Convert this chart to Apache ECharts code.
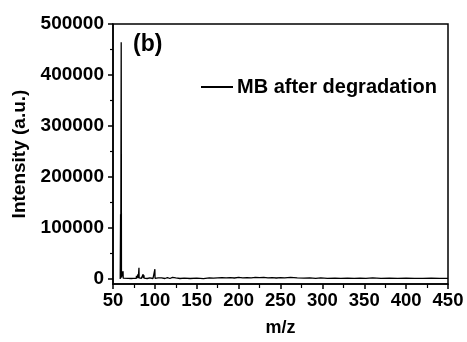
<!DOCTYPE html>
<html><head><meta charset="utf-8">
<script src="https://cdn.jsdelivr.net/npm/echarts@6/dist/echarts.min.js"></script>
<style>html,body{margin:0;padding:0;background:#fff}#c{width:467px;height:342px}</style>
</head><body><div id="c"></div>
<script>
const mzValues = [58.6, 58.9, 59.05, 59.2, 59.6, 59.8, 60.1, 60.4, 60.9, 61.8, 62, 62.2, 64, 68, 71.8, 72, 72.2, 73.8, 74, 74.2, 77.8, 78, 78.2, 79.8, 80, 80.2, 80.8, 81, 81.2, 81.8, 82, 82.2, 83.8, 84, 84.2, 85.8, 86, 86.2, 86.8, 87, 87.2, 88, 90.8, 91, 91.2, 94, 97.8, 98, 98.2, 99.8, 100, 100.2, 100.8, 101, 101.2, 104, 108, 112, 115, 118, 121, 125, 130, 135, 142, 150, 158, 165, 170, 175, 180, 185, 190, 195, 200, 205, 210, 215, 220, 225, 230, 235, 240, 245, 250, 255, 262, 270, 278, 285, 292, 298, 306, 315, 322, 330, 338, 345, 352, 360, 370, 380, 390, 400, 410, 420, 430, 440, 450];
const intensityValues = [0, 1500, 127000, 1500, 2000, 464000, 3000, 1500, 1500, 1000, 15000, 1500, 1200, 1000, 800, 2500, 800, 900, 4000, 900, 1000, 6000, 1000, 1500, 9000, 1500, 2000, 22000, 2000, 1500, 5000, 1200, 1000, 4000, 1000, 1500, 9000, 1500, 1500, 7000, 1500, 4000, 800, 2500, 800, 2000, 800, 3000, 800, 900, 19000, 1200, 1000, 4000, 900, 2000, 2000, 800, 2500, 800, 3000, 2000, 800, 1500, 800, 1500, 700, 2000, 1500, 2000, 2500, 2000, 2500, 1800, 3000, 2000, 2500, 2000, 3000, 2500, 3000, 2000, 2500, 1800, 2500, 2000, 3000, 2000, 1500, 2000, 1200, 2000, 1200, 1500, 1000, 1500, 1000, 1500, 1000, 2000, 1000, 1500, 1000, 1500, 1000, 1200, 1500, 1000, 1000];
const xTicks = [50, 100, 150, 200, 250, 300, 350, 400, 450];
const yTicks = [0, 100000, 200000, 300000, 400000, 500000];
const yMinorTicks = [50000, 150000, 250000, 350000, 450000];
const seriesName = 'MB after degradation';

const FONT = 'Liberation Sans, Arial, sans-serif';
const chart = echarts.init(document.getElementById('c'));
const data = mzValues.map((m, i) => [m, intensityValues[i]]);
chart.setOption({
  animation: false,
  backgroundColor: '#fff',
  grid: { left: 113, right: 19, top: 24, bottom: 46, show: true, borderColor: '#000', borderWidth: 1.5 },
  legend: {
    left: 196, top: 72, itemWidth: 32, itemHeight: 2, icon: 'rect', itemGap: 0,
    textStyle: { fontFamily: FONT, fontWeight: 'bold', fontSize: 20, color: '#000', padding: [0,0,0,-1] },
    data: [seriesName]
  },
  graphic: [{ type: 'text', left: 133, top: 33, style: { text: '(b)', font: 'bold 23px Liberation Sans, Arial, sans-serif', fill: '#000' } }],
  xAxis: {
    type: 'value', min: 50, max: 450, interval: 50,
    name: 'm/z', nameLocation: 'middle', nameGap: 35,
    nameTextStyle: { fontFamily: FONT, fontWeight: 'bold', fontSize: 18, color: '#000' },
    axisLine: { show: true, onZero: false, lineStyle: { color: '#000', width: 1.5 } },
    axisTick: { show: true, length: 5, lineStyle: { color: '#000', width: 1.5 } },
    minorTick: { show: true, splitNumber: 2, length: 4, lineStyle: { color: '#000', width: 1.2 } },
    axisLabel: { fontFamily: FONT, fontWeight: 'bold', fontSize: 18.5, color: '#000', margin: 7,
      customValues: xTicks },
    splitLine: { show: false }
  },
  yAxis: [{
    type: 'value', min: -10000, max: 500000,
    name: 'Intensity (a.u.)', nameLocation: 'middle', nameGap: 80,
    nameTextStyle: { fontFamily: FONT, fontWeight: 'bold', fontSize: 19, color: '#000' },
    axisLine: { show: true, onZero: false, lineStyle: { color: '#000', width: 1.5 } },
    axisTick: { show: true, length: 5, customValues: yTicks, lineStyle: { color: '#000', width: 1.5 } },
    axisLabel: { fontFamily: FONT, fontWeight: 'bold', fontSize: 19, color: '#000', margin: 9,
      customValues: yTicks, formatter: v => String(v) },
    splitLine: { show: false }
  }, {
    type: 'value', min: -10000, max: 500000, position: 'left', offset: 0,
    axisLine: { show: false, onZero: false },
    axisTick: { show: true, length: 3, customValues: yMinorTicks, lineStyle: { color: '#000', width: 1.2 } },
    axisLabel: { show: true, customValues: yMinorTicks, formatter: () => '' },
    splitLine: { show: false }
  }],
  series: [{
    name: seriesName, type: 'line', data: data, yAxisIndex: 0,
    showSymbol: false, symbol: 'none',
    lineStyle: { color: '#000', width: 1.3 }, itemStyle: { color: '#000' }
  }]
});
</script></body></html>
